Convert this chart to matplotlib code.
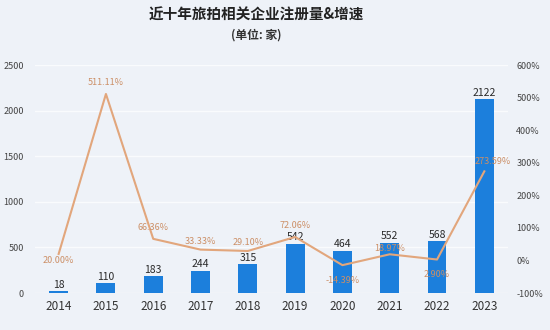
import matplotlib.pyplot as plt
import numpy as np

plt.rcParams['font.family'] = ['Noto Sans CJK SC', 'DejaVu Sans']

# 企业注册量（家）与同比增速（%）
years = ["2014", "2015", "2016", "2017", "2018", "2019", "2020", "2021", "2022", "2023"]
counts = [18, 110, 183, 244, 315, 542, 464, 552, 568, 2122]
growth = [20.00, 511.11, 66.36, 33.33, 29.10, 72.06, -14.39, 18.97, 2.90, 273.59]
growth_labels = ["20.00%", "511.11%", "66.36%", "33.33%", "29.10%", "72.06%",
                 "-14.39%", "18.97%", "2.90%", "273.59%"]

# 增速标签的偏移（像素点）
label_offsets = [(0, -5), (0, 8), (0, 8), (0, 6), (0, 6), (0, 8),
                 (0, -11), (0, 4), (0, -11), (6, 7)]

bg = '#eef2f8'
bar_color = '#1c7fdc'
line_color = '#e2a67c'
pct_color = '#cc8f66'

fig = plt.figure(figsize=(5.5, 3.3), dpi=100, facecolor=bg)
ax = fig.add_axes([0.0636, 0.112, 0.86, 0.691])
ax.set_facecolor(bg)

x = np.arange(len(years))
ax.bar(x, counts, width=0.4, color=bar_color, zorder=2)
for xi, c in zip(x, counts):
    ax.annotate(str(c), (xi, c), xytext=(0, 1), textcoords='offset points',
                ha='center', va='bottom', fontsize=7.5, fontweight='medium',
                color='#2a2a2a', zorder=5)

ax.set_xlim(-0.5, len(years) - 0.5)
ax.set_ylim(0, 2500)
ax.set_yticks([0, 500, 1000, 1500, 2000, 2500])
ax.set_xticks(x)
ax.set_xticklabels(years, fontsize=8.5, color='#333333')
ax.tick_params(axis='y', labelsize=6.5, colors='#444444', length=0, pad=8)
ax.tick_params(axis='x', length=0, pad=5)
ax.grid(axis='y', color='#f9fbfd', linewidth=1, zorder=0)
for s in ax.spines.values():
    s.set_visible(False)

ax2 = ax.twinx()
ax2.plot(x, growth, color=line_color, linewidth=1.5, zorder=3)
ax2.set_ylim(-100, 600)
ax2.set_yticks(range(-100, 601, 100))
ax2.set_yticklabels([f"{v}%" for v in range(-100, 601, 100)])
ax2.tick_params(axis='y', labelsize=6.5, colors='#444444', length=0, pad=6)
for s in ax2.spines.values():
    s.set_visible(False)

for xi, g, lab, off in zip(x, growth, growth_labels, label_offsets):
    ax2.annotate(lab, (xi, g), xytext=off, textcoords='offset points',
                 ha='center', va='center', fontsize=6.5, color=pct_color)

fig.text(0.466, 0.955, "近十年旅拍相关企业注册量&增速", ha='center', va='center',
         fontsize=10.5, fontweight='bold', color='#222222')
fig.text(0.466, 0.895, "(单位: 家)", ha='center', va='center',
         fontsize=8.5, fontweight='bold', color='#333333')

fig.savefig("out.png", dpi=100, facecolor=bg)
